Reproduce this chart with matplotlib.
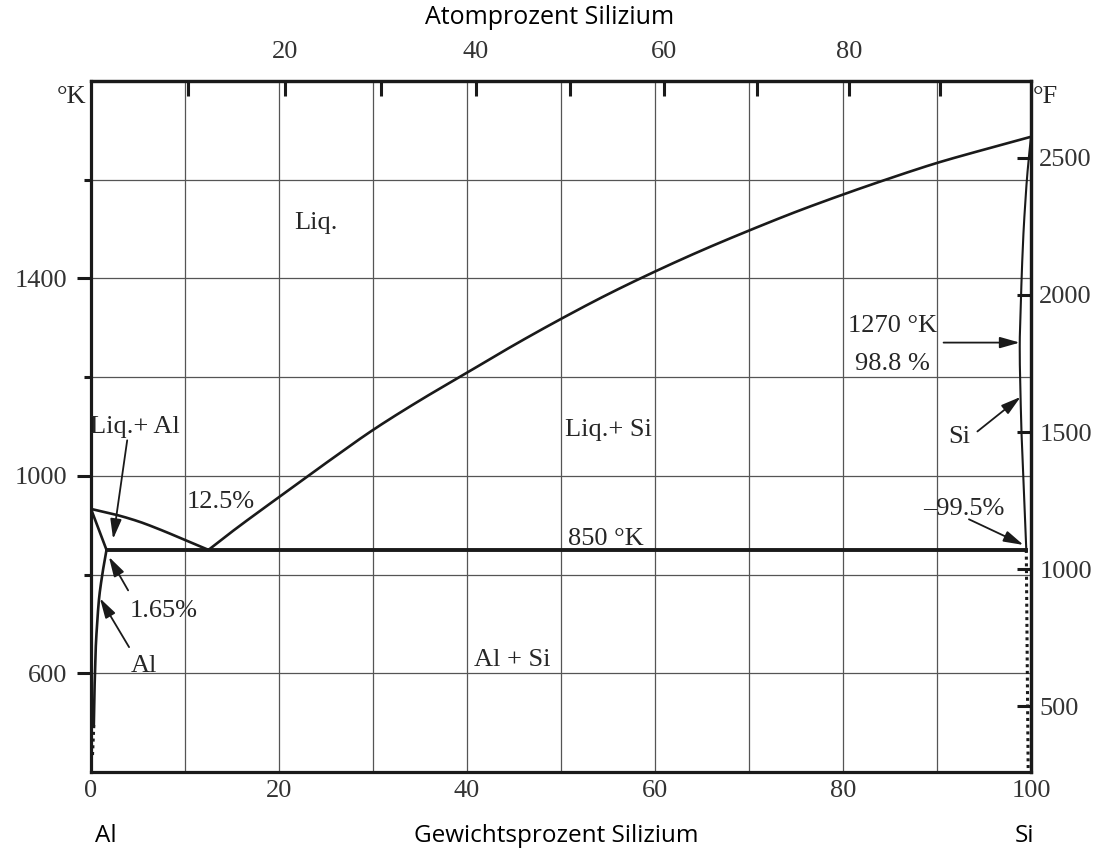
import numpy as np
import matplotlib
matplotlib.use("Agg")
import matplotlib.pyplot as plt

# --- Al-Si phase diagram data (weight % Si, temperature in K) ---
liq_al_wt = [0, 2.5, 5, 7.5, 10, 12.5]
liq_al_T = [933, 922, 908, 890, 870, 850]

liq_si_wt = [12.5, 15, 20, 25, 30, 35, 40, 45, 50, 55, 60, 65, 70, 75, 80, 85, 90, 95, 100]
liq_si_T = [850, 887, 957, 1026, 1093, 1153, 1209, 1265, 1318, 1368, 1414, 1457, 1497,
            1535, 1570, 1603, 1634, 1661, 1687]

sol_al_wt = [0, 1.65]
sol_al_T = [933, 850]

solv_al_wt = [1.65, 1.2, 0.85, 0.65, 0.5, 0.42, 0.35, 0.3]
solv_al_T = [850, 800, 750, 700, 650, 600, 550, 495]
solv_al_dot_wt = [0.3, 0.22, 0.15]
solv_al_dot_T = [495, 460, 430]

sol_si_wt = [100, 99.8, 99.56, 99.38, 99.22, 99.1, 99.0, 98.92, 98.84, 98.8, 98.81,
             98.84, 98.9, 98.97, 99.06, 99.18, 99.28, 99.39, 99.5]
sol_si_T = [1687, 1650, 1600, 1550, 1500, 1450, 1400, 1350, 1300, 1270, 1230,
            1200, 1150, 1100, 1050, 1000, 950, 900, 850]

solv_si_wt = [99.5, 99.6, 99.7]
solv_si_T = [850, 620, 400]

eutectic_T = 850
eutectic_wt = [1.65, 99.5]

wt_ticks = [0, 20, 40, 60, 80, 100]
at_ticks = [10, 20, 30, 40, 50, 60, 70, 80, 90]
at_labels = ["", "20", "", "40", "", "60", "", "80", ""]
K_major = [600, 1000, 1400]
K_minor = [800, 1200, 1600]
F_ticks = [500, 1000, 1500, 2000, 2500]

M_AL, M_SI = 26.982, 28.086

SERIF = ["Liberation Serif", "DejaVu Serif"]
SANS = ["Open Sans", "DejaVu Sans"]
INK = "#1a1a1a"


def wt2at(w):
    w = np.asarray(w, dtype=float)
    n_si = w / M_SI
    n_al = (100.0 - w) / M_AL
    return 100.0 * n_si / (n_si + n_al)


def at2wt(a):
    a = np.asarray(a, dtype=float)
    m_si = a * M_SI
    m_al = (100.0 - a) * M_AL
    return 100.0 * m_si / (m_si + m_al)


def k2f(k):
    return (np.asarray(k, dtype=float) - 273.15) * 9.0 / 5.0 + 32.0


def f2k(f):
    return (np.asarray(f, dtype=float) - 32.0) * 5.0 / 9.0 + 273.15


def pchip(xp, yp, n=300):
    """Monotone cubic (Fritsch-Carlson) curve through the given points."""
    x = np.asarray(xp, float)
    y = np.asarray(yp, float)
    order = np.argsort(x)
    x, y = x[order], y[order]
    h = np.diff(x)
    d = np.diff(y) / h
    m = np.zeros_like(x)
    m[0], m[-1] = d[0], d[-1]
    for k in range(1, len(x) - 1):
        if d[k - 1] * d[k] <= 0:
            m[k] = 0.0
        else:
            w1 = 2 * h[k] + h[k - 1]
            w2 = h[k] + 2 * h[k - 1]
            m[k] = (w1 + w2) / (w1 / d[k - 1] + w2 / d[k])
    xs = np.linspace(x[0], x[-1], n)
    i = np.clip(np.searchsorted(x, xs) - 1, 0, len(x) - 2)
    t = (xs - x[i]) / h[i]
    h00 = 2 * t**3 - 3 * t**2 + 1
    h10 = t**3 - 2 * t**2 + t
    h01 = -2 * t**3 + 3 * t**2
    h11 = t**3 - t**2
    ys = h00 * y[i] + h10 * h[i] * m[i] + h01 * y[i + 1] + h11 * h[i] * m[i + 1]
    return xs, ys


fig = plt.figure(figsize=(11.02, 8.49), dpi=100)
ax = fig.add_axes([91 / 1102, 1 - 772 / 849, 940 / 1102, 691 / 849])
ax.set_xlim(0, 100)
ax.set_ylim(400, 1800)

# grid
ax.set_xticks(wt_ticks)
ax.set_xticks([10, 30, 50, 70, 90], minor=True)
ax.set_yticks(K_major)
ax.set_yticks(K_minor, minor=True)
ax.grid(which="both", color="#555555", lw=0.9)
ax.set_axisbelow(True)

for s in ax.spines.values():
    s.set_linewidth(2.3)
    s.set_color(INK)

FS = 19
ax.tick_params(axis="x", which="both", length=0, pad=6, labelsize=FS, labelcolor="#333")
ax.tick_params(axis="y", which="major", direction="out", length=10, width=2.2,
               pad=7, labelsize=FS, labelcolor="#333", color=INK)
ax.tick_params(axis="y", which="minor", direction="out", length=5, width=2.2, color=INK)
for lab in ax.get_xticklabels() + ax.get_yticklabels():
    lab.set_family(SERIF)

# top axis: atomic percent
top = ax.secondary_xaxis("top", functions=(wt2at, at2wt))
top.set_xticks(at_ticks)
top.set_xticklabels(at_labels)
top.tick_params(direction="in", length=11, width=2.2, pad=13, labelsize=FS,
                labelcolor="#333", color=INK)
for lab in top.get_xticklabels():
    lab.set_family(SERIF)
top.spines["top"].set_linewidth(2.3)

# right axis: Fahrenheit
right = ax.secondary_yaxis("right", functions=(k2f, f2k))
right.set_yticks(F_ticks)
right.tick_params(direction="in", length=10, width=2.2, pad=6, labelsize=FS,
                  labelcolor="#333", color=INK)
for lab in right.get_yticklabels():
    lab.set_family(SERIF)
right.spines["right"].set_linewidth(2.3)

# phase boundaries
lw = 1.9
ax.plot(*pchip(liq_al_wt, liq_al_T), color=INK, lw=lw, solid_capstyle="round")
ax.plot(*pchip(liq_si_wt, liq_si_T), color=INK, lw=lw, solid_capstyle="round")
ax.plot(sol_al_wt, sol_al_T, color=INK, lw=lw)
T_s, w_s = pchip(solv_al_T, solv_al_wt)
ax.plot(w_s, T_s, color=INK, lw=lw)
ax.plot(solv_al_dot_wt, solv_al_dot_T, color=INK, lw=2.2, ls=(0, (1, 1.2)))
T_s, w_s = pchip(sol_si_T, sol_si_wt)
ax.plot(w_s, T_s, color=INK, lw=1.5)
ax.plot(solv_si_wt, solv_si_T, color=INK, lw=2.2, ls=(0, (1, 1.2)))
ax.plot(eutectic_wt, [eutectic_T, eutectic_T], color=INK, lw=2.8)

# labels
tk = dict(family=SERIF, fontsize=FS, color="#262626")
ax.text(-0.5, 1768, "°K", ha="right", va="center", clip_on=False, **tk)
ax.text(100.2, 1768, "°F", ha="left", va="center", clip_on=False, **tk)
ax.text(23.9, 1513, "Liq.", ha="center", va="center", **tk)
ax.text(-0.1, 1100, "Liq.+ Al", ha="left", va="center", **tk)
ax.text(55.0, 1092, "Liq.+ Si", ha="center", va="center", **tk)
ax.text(13.8, 947, "12.5%", ha="center", va="center", **tk)
ax.text(54.8, 872, "850 °K", ha="center", va="center", **tk)
ax.text(7.7, 727, "1.65%", ha="center", va="center", **tk)
ax.text(5.6, 614, "Al", ha="center", va="center", **tk)
ax.text(44.8, 626, "Al + Si", ha="center", va="center", **tk)
ax.text(85.3, 1303, "1270 °K", ha="center", va="center", **tk)
ax.text(85.3, 1226, "98.8 %", ha="center", va="center", **tk)
ax.text(92.4, 1078, "Si", ha="center", va="center", **tk)
ax.text(92.9, 933, "–99.5%", ha="center", va="center", **tk)

# arrows
ap = dict(arrowstyle="-|>,head_length=0.6,head_width=0.17", color=INK, lw=1.3,
          mutation_scale=20, shrinkA=0, shrinkB=0)
ax.annotate("", xy=(2.35, 872), xytext=(3.85, 1072), arrowprops=ap)
ax.annotate("", xy=(1.9, 836), xytext=(3.95, 768), arrowprops=ap)
ax.annotate("", xy=(0.95, 752), xytext=(4.05, 653), arrowprops=ap)
ax.annotate("", xy=(98.8, 1270), xytext=(90.7, 1270), arrowprops=ap)
ax.annotate("", xy=(98.9, 1160), xytext=(94.3, 1090), arrowprops=ap)
ax.annotate("", xy=(99.2, 860), xytext=(93.4, 912), arrowprops=ap)

# axis titles
st = dict(family=SANS, color="black")
fig.text(550 / 1102, 1 - 18 / 849, "Atomprozent Silizium", ha="center", va="center",
         fontsize=18, **st)
fig.text(556 / 1102, 1 - 836 / 849, "Gewichtsprozent Silizium", ha="center", va="center",
         fontsize=17.5, **st)
fig.text(106 / 1102, 1 - 836 / 849, "Al", ha="center", va="center", fontsize=17.5, **st)
fig.text(1024 / 1102, 1 - 836 / 849, "Si", ha="center", va="center", fontsize=17.5, **st)

fig.savefig("out.png", dpi=100)
